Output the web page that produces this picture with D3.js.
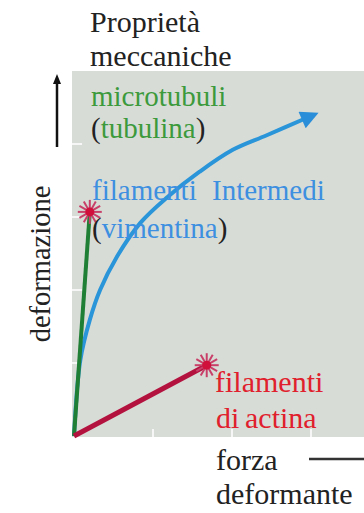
<!DOCTYPE html>
<html>
<head>
<meta charset="utf-8">
<script src="https://cdn.jsdelivr.net/npm/d3@7"></script>
<style>
  body { margin: 0; background: #fff; }
</style>
</head>
<body>
<div id="chart"></div>
<script>
// data (units: x = forza, y = deformazione)
const xTicks = [1, 2, 3];
const yTicks = [1, 2, 3, 4];
const microtubuli = [[0, 0], [0.2, 3.07]];
const actina = [[0, 0], [1.68, 0.97]];
const intermedi = [[0, 0], [0.08, 1.04], [0.2, 1.59], [0.33, 2.0], [0.54, 2.45], [0.84, 2.92],
  [1.18, 3.27], [1.59, 3.62], [2.01, 3.92], [2.44, 4.12], [2.95, 4.36]];

const W = 364, H = 513;
const FONT = "'Liberation Serif'";
let x = d3.scaleLinear().domain([0, 1]).range([74, 153]);
let y = d3.scaleLinear().domain([0, 5]).range([436, 71]);

let svg = d3.select("#chart").append("svg")
  .attr("width", W).attr("height", H);

let defs = svg.append("defs");
defs.append("marker")
  .attr("id", "blueHead")
  .attr("viewBox", "0 0 10 10")
  .attr("refX", 3).attr("refY", 5)
  .attr("markerWidth", 5.5).attr("markerHeight", 4.5)
  .attr("orient", "auto")
  .attr("markerUnits", "strokeWidth")
  .append("path").attr("d", "M0,0 L10,5 L0,10 z").attr("fill", "#2a8fd8");
defs.append("marker")
  .attr("id", "blackHead")
  .attr("viewBox", "0 0 10 10")
  .attr("refX", 5).attr("refY", 5)
  .attr("markerWidth", 4).attr("markerHeight", 4)
  .attr("orient", "auto")
  .append("path").attr("d", "M0,1 L10,5 L0,9 z").attr("fill", "#111");

// plot background
svg.append("rect")
  .attr("x", x(0) - 2).attr("y", y(5))
  .attr("width", W - x(0) + 2).attr("height", y(0) - y(5) + 1)
  .attr("fill", "#d8dcd7");

// white tick marks
svg.append("g").selectAll("line").data(yTicks).join("line")
  .attr("x1", x(0) - 3).attr("x2", x(0) + 8)
  .attr("y1", d => y(d)).attr("y2", d => y(d))
  .attr("stroke", "#fff").attr("stroke-width", 1.5);
svg.append("g").selectAll("line").data(xTicks).join("line")
  .attr("x1", d => x(d)).attr("x2", d => x(d))
  .attr("y1", y(0) - 7).attr("y2", y(0) + 1)
  .attr("stroke", "#fff").attr("stroke-width", 1.5);

// axis arrows
svg.append("line")
  .attr("x1", 57).attr("y1", y(4) + 3).attr("x2", 57).attr("y2", y(5) + 8)
  .attr("stroke", "#111").attr("stroke-width", 2.5)
  .attr("marker-end", "url(#blackHead)");
svg.append("line")
  .attr("x1", 309).attr("y1", 459).attr("x2", W).attr("y2", 459)
  .attr("stroke", "#333").attr("stroke-width", 2.5);

let line = d3.line().x(d => x(d[0])).y(d => y(d[1]));
let curve = d3.line().x(d => x(d[0])).y(d => y(d[1])).curve(d3.curveCatmullRom.alpha(0.5));

// curves
svg.append("path").datum(intermedi)
  .attr("d", curve).attr("fill", "none")
  .attr("stroke", "#2a95d8").attr("stroke-width", 4)
  .attr("marker-end", "url(#blueHead)");
svg.append("path").datum(microtubuli)
  .attr("d", line).attr("fill", "none")
  .attr("stroke", "#1f7f34").attr("stroke-width", 4);
svg.append("path").datum(actina)
  .attr("d", line).attr("fill", "none")
  .attr("stroke", "#b3123f").attr("stroke-width", 5);

// stars at the end points
const drawStar = (p) => {
  let g = svg.append("g")
    .attr("transform", "translate(" + x(p[0]) + "," + y(p[1]) + ")");
  d3.range(12).forEach(i => {
    let a = i * Math.PI / 6;
    g.append("line")
      .attr("x1", 0).attr("y1", 0)
      .attr("x2", 12 * Math.cos(a)).attr("y2", 12 * Math.sin(a))
      .attr("stroke", "#c8406a").attr("stroke-width", 2);
  });
  g.append("circle").attr("r", 4.5).attr("fill", "#d0103a");
};
drawStar(microtubuli[1]);
drawStar(actina[1]);

// labels
const addText = (tx, ty, parts, size) => {
  let t = svg.append("text").attr("x", tx).attr("y", ty)
    .style("font-family", FONT)
    .style("font-size", (size || 29) + "px");
  parts.forEach(p => t.append("tspan").attr("fill", p[1]).text(p[0]));
  return t;
};
const GREEN = "#3c9a3c", BLUE = "#3d8fe0", RED = "#e0202c", DARK = "#222";

addText(90, 32, [["Proprietà", DARK]], 30);
addText(90, 66, [["meccaniche", DARK]], 30);
addText(91, 106, [["microtubuli", GREEN]]);
addText(91, 138, [["(", DARK], ["tubulina", GREEN], [")", DARK]]);
addText(92, 200, [["filamenti", BLUE]]);
addText(212, 200, [["Intermedi", BLUE]]);
addText(92, 238, [["(", DARK], ["vimentina", BLUE], [")", DARK]]);
addText(215, 392, [["filamenti", RED]], 30);
addText(216, 428, [["di", RED]], 30);
addText(245, 428, [["actina", RED]], 30);
addText(216, 470, [["forza", DARK]], 30);
addText(216, 504, [["deformante", DARK]], 30);

svg.append("text")
  .attr("transform", "translate(50,264) rotate(-90)")
  .attr("text-anchor", "middle")
  .style("font-family", FONT)
  .style("font-size", "28.5px")
  .attr("fill", DARK)
  .text("deformazione");
</script>
</body>
</html>
